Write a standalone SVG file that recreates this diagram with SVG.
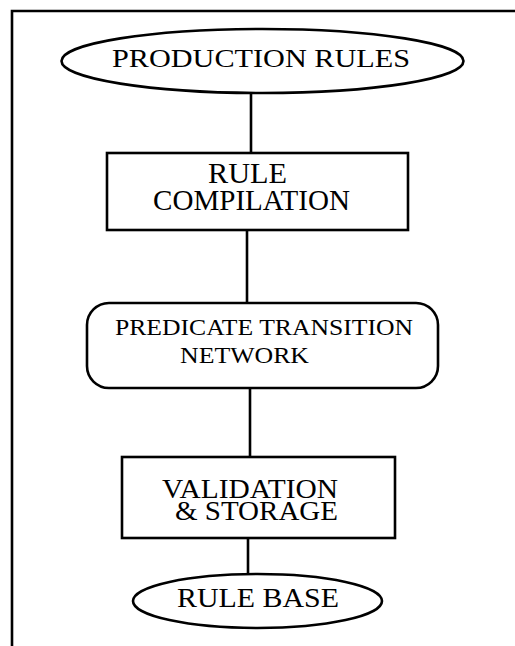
<svg xmlns="http://www.w3.org/2000/svg" width="515" height="646" viewBox="0 0 515 646">
<style>
.s{fill:#fff;stroke:#000;stroke-width:2.6}
.c{stroke:#000;stroke-width:2.6;fill:none}
.t{font-family:"Liberation Serif","Times New Roman",serif;fill:#000;text-anchor:start}
</style>
<rect width="515" height="646" fill="#fff"/>
<g id="frame">
<path class="c" d="M12,646 V11 H515" stroke-width="3"/>
</g>
<g id="connectors">
<line class="c" x1="251" y1="93" x2="251" y2="153"/>
<line class="c" x1="247" y1="230" x2="247" y2="303"/>
<line class="c" x1="250" y1="388" x2="250" y2="457"/>
<line class="c" x1="248" y1="538" x2="248" y2="574"/>
</g>
<g id="production-rules">
<ellipse class="s" cx="262.5" cy="61" rx="201" ry="32"/>
<text class="t" x="112" y="67" font-size="25" textLength="298" lengthAdjust="spacingAndGlyphs">PRODUCTION RULES</text>
</g>
<g id="rule-compilation">
<rect class="s" x="107" y="153" width="301" height="77"/>
<text class="t" x="208" y="183" font-size="29" textLength="79" lengthAdjust="spacingAndGlyphs">RULE</text>
<text class="t" x="153" y="210" font-size="29" textLength="197" lengthAdjust="spacingAndGlyphs">COMPILATION</text>
</g>
<g id="predicate-transition-network">
<rect class="s" x="87" y="303" width="351" height="85" rx="22" ry="22"/>
<text class="t" x="115" y="335" font-size="23" textLength="298" lengthAdjust="spacingAndGlyphs">PREDICATE TRANSITION</text>
<text class="t" x="180" y="363" font-size="23" textLength="129" lengthAdjust="spacingAndGlyphs">NETWORK</text>
</g>
<g id="validation-storage">
<rect class="s" x="122" y="457" width="273" height="81"/>
<text class="t" x="162" y="498" font-size="27" textLength="176" lengthAdjust="spacingAndGlyphs">VALIDATION</text>
<text class="t" x="175" y="520" font-size="27" textLength="163" lengthAdjust="spacingAndGlyphs">&amp; STORAGE</text>
</g>
<g id="rule-base">
<ellipse class="s" cx="257.5" cy="601" rx="124.5" ry="27"/>
<text class="t" x="177" y="607" font-size="27" textLength="162" lengthAdjust="spacingAndGlyphs">RULE BASE</text>
</g>
</svg>
